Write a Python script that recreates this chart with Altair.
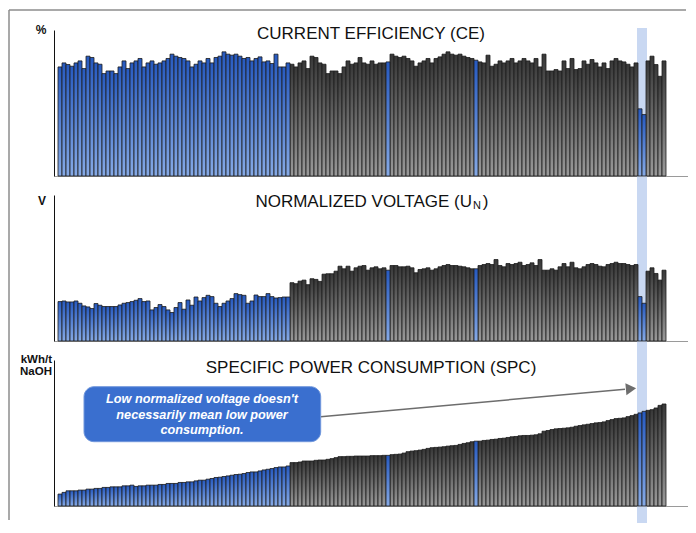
import altair as alt
import pandas as pd

# ---- data (relative bar heights; axes carry no ticks) ----
CE = [108.3, 112.3, 110.7, 109, 112.3, 114.3, 106.7, 119, 117.7, 112.3,
      111, 101.7, 104.3, 104.3, 101.7, 108.3, 114.3, 106.7, 112.3, 114.3,
      116.7, 108.3, 112.3, 114.3, 111, 112.3, 114.3, 116.7, 121, 119,
      117.7, 116.7, 114.3, 108.3, 111, 114.3, 112.3, 116.7, 112.3, 117.7,
      119, 123.3, 121, 120, 121, 119, 116.7, 117.7, 114.3, 116.7,
      118.3, 113.3, 114.3, 111.7, 121, 108.3, 108.3, 112.3,
      111, 108.3, 112.3, 114.3, 106.7, 119, 117.7, 112.3, 111, 101.7,
      104.3, 104.3, 101.7, 108.3, 114.3, 111, 112.3, 117.7, 112.3, 111,
      114.3, 111, 112.3, 112.3, 113.3, 121, 119, 117.7, 119, 116.7,
      114.3, 109, 112.3, 114.3, 116.7, 112.3, 116.7, 118.3, 121, 123.3,
      121, 120, 121, 119, 117.7, 116.7, 115, 113.3, 112.3, 120,
      109, 111, 114.3, 112.3, 114.3, 116.7, 112.3, 114.3, 116.7, 114.3,
      112.3, 116.7, 108.3, 121, 104.3, 104.3, 105.7, 104.3, 114.3, 106.7,
      116.7, 105.7, 106.7, 114.3, 111, 115.7, 112.3, 108.3, 112.3, 106.7,
      114.3, 116.7, 114.3, 113.3, 111, 108.3, 112.3, 66.7, 61, 114.3,
      119, 110.7, 99, 114.3]

UN = [39.7, 40.3, 39.3, 39.3, 40.3, 38, 35.3, 34.3, 32.7, 37.7,
      36, 34.7, 34.7, 34.7, 34.7, 36.3, 38, 38.7, 39.7, 41,
      42.7, 39.7, 40.3, 31.3, 33.7, 36.7, 34.7, 31.3, 28.7, 33.7,
      38.7, 32, 41.3, 36, 44.3, 40.3, 43.7, 46, 44.7, 38,
      34.7, 38, 40.3, 42.7, 47.7, 46.7, 46, 38, 40.3, 46.3,
      44.7, 44.7, 47.7, 44.7, 43.3, 43.7, 44.3, 44.3,
      58.7, 57.7, 60.3, 61.3, 56.7, 62.7, 62, 60, 67.3, 67.7,
      67.7, 70.3, 75.3, 72.7, 75.3, 70.3, 73.7, 75.3, 76, 71.3,
      73.7, 74.7, 72.7, 73.7, 71.3, 76, 76, 74.7, 74.7, 75.3,
      73.7, 68.7, 72, 72.7, 73.7, 71.3, 72.7, 74.7, 76, 77,
      76, 76, 75.3, 74.7, 73.7, 72.7, 72.7, 76, 77, 78,
      77, 82, 76, 74.7, 78, 77, 78, 79.3, 76, 77,
      78.7, 76, 82, 71.3, 71.3, 72.7, 71.3, 74.7, 78, 74.7,
      79.3, 73.7, 72.7, 74.7, 77, 78, 77, 75.3, 74.7, 77,
      78, 79.3, 78, 78, 77, 76, 77, 44.7, 38, 70.3,
      73.7, 68, 61.3, 71.3]

SPC = [12, 13.7, 15.3, 15.3, 15.3, 16, 16, 17, 17, 17.7,
       17.7, 18.7, 18.7, 19.3, 19.3, 19.3, 20.3, 20.3, 21, 19.7,
       20.3, 20.3, 21, 21, 21, 21.7, 21.7, 22.7, 22.7, 22.7,
       23.7, 23.7, 24.3, 24.3, 25.3, 26, 26, 27, 27.7, 28.7,
       29, 29.7, 30.3, 31, 31.7, 32, 32.7, 33.7, 34.3, 34.3,
       35.3, 36.3, 37, 37.7, 38.7, 39.3, 39.3, 40.3,
       43.7, 43.7, 44.3, 45.3, 45.3, 45.3, 46, 46.3, 46.3, 47,
       47.7, 48.7, 49.7, 49.7, 50, 50, 50.3, 50.3, 50.3, 50.3,
       50.7, 50.7, 50.7, 51, 51, 51.7, 52, 52.3, 53.3, 54.7,
       55.3, 55.7, 56.3, 57, 58, 58.7, 59, 59.3, 59.7, 60.3,
       60.7, 61, 62, 63, 63.7, 64.7, 65.3, 65.3, 66, 66.3,
       67, 67.3, 68, 68.3, 69, 69.7, 70, 70.7, 71, 71,
       71.3, 71.7, 72.7, 75.3, 76, 77, 77.7, 78, 78.3, 78.7,
       79.3, 80.3, 81, 81.7, 82.3, 83, 83.7, 84, 84.7, 86,
       87, 88, 88.3, 88.7, 90, 91, 92.3, 93.7, 95.3, 96.3,
       97, 98.7, 101.3, 102.7]

BLUE_BARS = list(range(58)) + [82, 104, 145, 146]
HIGHLIGHT_SPAN = [144.25, 146.75]
TITLES = ["CURRENT EFFICIENCY (CE)", "NORMALIZED VOLTAGE (U", "SPECIFIC POWER CONSUMPTION (SPC)"]
NOTE = ["Low normalized voltage doesn't", "necessarily mean low power", "consumption."]

n = len(CE)
df = pd.DataFrame({"bar": list(range(n)), "CE": CE, "UN": UN, "SPC": SPC})
df["grp"] = ["blue" if i in BLUE_BARS else "gray" for i in range(n)]
band_df = pd.DataFrame({"b0": [HIGHLIGHT_SPAN[0]], "b1": [HIGHLIGHT_SPAN[1]]})
one = pd.DataFrame({"k": [0]})

W, H = 634, 146
FONT = "Liberation Sans"
XSC = alt.Scale(domain=[-1.5, 157], nice=False, zero=False, padding=0)
X_AXIS = alt.Axis(labels=False, ticks=False, grid=False, title=None,
                  domainColor="#9a9a9a", domainWidth=1.2)
Y_AXIS = alt.Axis(labels=False, ticks=False, grid=False, title=None,
                  domainColor="#111111", domainWidth=1)

def grad(top, bottom):
    return alt.Gradient(gradient="linear", x1=0, x2=0, y1=0, y2=1,
                        stops=[alt.GradientStop(offset=0, color=top),
                               alt.GradientStop(offset=1, color=bottom)])

BLUE_FILL = grad("#275ac0", "#86aae6")
GRAY_FILL = grad("#383838", "#9a9a9a")


def txt(text, x, y, size=17, align="center", baseline="alphabetic", weight="normal",
        style="normal", color="#111111"):
    return alt.Chart(one).mark_text(text=text, font=FONT, fontSize=size, align=align,
                                    baseline=baseline, fontWeight=weight, fontStyle=style,
                                    color=color).encode(x=alt.value(x), y=alt.value(y))


def panel(field, ymax, band_top, band_bottom, extra):
    ysc = alt.Scale(domain=[0, ymax], nice=False, zero=True)
    band = alt.Chart(band_df).mark_rect(color="#c9d8f2").encode(
        x=alt.X("b0:Q", scale=XSC, axis=X_AXIS), x2="b1:Q",
        y=alt.value(band_top), y2=alt.value(band_bottom))
    layers = [band]
    for g, fill in (("gray", GRAY_FILL), ("blue", BLUE_FILL)):
        layers.append(
            alt.Chart(df).transform_filter(alt.datum.grp == g).mark_bar(
                width=4, fill=fill, stroke="#1c1c1c", strokeWidth=0.8).encode(
                x=alt.X("bar:Q", scale=XSC, axis=X_AXIS),
                y=alt.Y(f"{field}:Q", scale=ysc, axis=Y_AXIS)))
    layers += extra
    return alt.layer(*layers).properties(width=W, height=H)


frame = [
    alt.Chart(one).mark_rule(color="#8c8c8c", strokeWidth=1.5).encode(
        x=alt.value(-45), y=alt.value(-20), y2=alt.value(490)),
    alt.Chart(one).mark_rule(color="#8c8c8c", strokeWidth=1.5).encode(
        x=alt.value(-45), x2=alt.value(632), y=alt.value(-20)),
]

p1 = panel("CE", 145, -2, 165, frame + [
    txt(TITLES[0], 317, 9.3),
    txt("%", -13, 0, size=12, weight="bold", baseline="middle"),
])

p2 = panel("UN", 147, 0, 165, [
    txt(TITLES[1], 418, 11.7, align="right"),
    txt("N", 419, 13.5, size=11, align="left"),
    txt(")", 428.7, 11.7, align="left"),
    txt("V", -12, 6, size=12, weight="bold", baseline="middle"),
])

p3 = panel("SPC", 147, 0, 163, [
    txt(TITLES[2], 317, 13.3),
    txt("kWh/t", -2, 0, size=11.5, weight="bold", align="right", baseline="middle"),
    txt("NaOH", -2, 12, size=11.5, weight="bold", align="right", baseline="middle"),
    alt.Chart(one).mark_rule(color="#6d6d6d", strokeWidth=1.5).encode(
        x=alt.value(266.7), y=alt.value(56.7), x2=alt.value(571), y2=alt.value(29.3)),
    alt.Chart(one).mark_point(shape="triangle-right", filled=True, size=140, angle=354.9,
                              color="#6d6d6d", opacity=1).encode(
        x=alt.value(577), y=alt.value(28.8)),
    alt.Chart(one).mark_rect(cornerRadius=10, fill="#3a6fcf", stroke="#7097dc",
                             strokeWidth=1).encode(
        x=alt.value(30), x2=alt.value(266.7), y=alt.value(26.7), y2=alt.value(81.7)),
    txt(NOTE[0], 148, 39.3, size=12.7, weight="bold", style="italic", baseline="middle", color="white"),
    txt(NOTE[1], 148, 54.5, size=12.7, weight="bold", style="italic", baseline="middle", color="white"),
    txt(NOTE[2], 148, 70, size=12.7, weight="bold", style="italic", baseline="middle", color="white"),
])

chart = alt.vconcat(p1, p2, p3, spacing=19, bounds="flush").properties(
    padding={"left": 0, "top": 1, "right": 0, "bottom": 0}
).configure_view(stroke=None)

chart.save("out.html", embed_options={"renderer": "svg", "actions": False})
